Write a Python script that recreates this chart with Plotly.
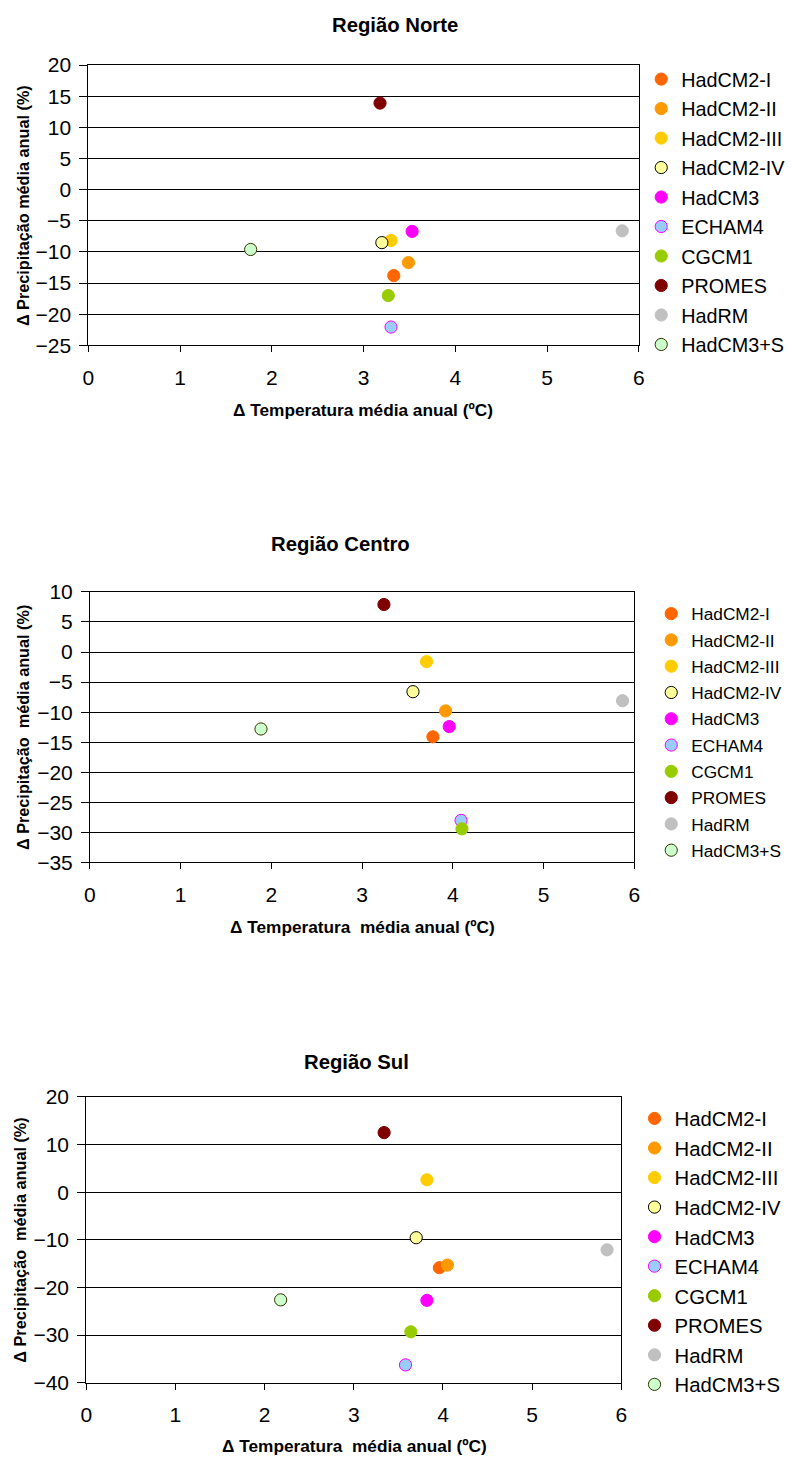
import plotly.graph_objects as go

W, H = 792, 1457

# measured render mapping (page px = A + S * figure px); invert it so
# that elements land at the reference pixel positions
SX, AX = 0.9829, 6.2
SY, AY = 0.98558, 9.63
KF = 1 / 0.985  # font compensation

models = ["HadCM2-I", "HadCM2-II", "HadCM2-III", "HadCM2-IV", "HadCM3",
          "ECHAM4", "CGCM1", "PROMES", "HadRM", "HadCM3+S"]
fill_colors = ["#FF6600", "#FF9900", "#FFCC00", "#FFFF99", "#FF00FF",
               "#99CCFF", "#99CC00", "#800000", "#C0C0C0", "#CCFFCC"]
edge_colors = ["#FF6600", "#FF9900", "#FFCC00", "#000000", "#FF00FF",
               "#FF00FF", "#99CC00", "#800000", "#C0C0C0", "#333300"]

# Região Norte
norte_dt = [3.33, 3.49, 3.30, 3.20, 3.53, 3.30, 3.27, 3.18, 5.82, 1.77]
norte_dp = [-13.8, -11.7, -8.15, -8.5, -6.7, -22.05, -17.0, 13.9, -6.6, -9.6]
# Região Centro
centro_dt = [3.78, 3.92, 3.71, 3.56, 3.96, 4.09, 4.10, 3.24, 5.87, 1.885]
centro_dp = [-14.1, -9.8, -1.6, -6.6, -12.4, -28.0, -29.4, 7.9, -8.1, -12.8]
# Região Sul
sul_dt = [3.96, 4.05, 3.82, 3.70, 3.82, 3.58, 3.64, 3.34, 5.84, 2.18]
sul_dp = [-15.85, -15.3, 2.6, -9.56, -22.7, -36.25, -29.3, 12.5, -12.1, -22.6]

titles = ["Região Norte", "Região Centro", "Região Sul"]
xtitles = ["\u0394 Temperatura média anual (ºC)",
           "\u0394 Temperatura  média anual (ºC)",
           "\u0394 Temperatura  média anual (ºC)"]
ytitles = ["\u0394 Precipitação média anual (%)",
           "\u0394 Precipitação  média anual (%)",
           "\u0394 Precipitação  média anual (%)"]
y_ranges = [(-25, 20, 5), (-35, 10, 5), (-40, 20, 10)]
x_range = (0, 6, 1)

# target geometry in reference pixels (left, right, top, bottom)
boxes = [(88.3, 637.7, 62.8, 343.5),
         (90.0, 633.3, 590.3, 861.3),
         (86.3, 620.3, 1096.0, 1382.3)]
# (first marker x, first item y, font size, group gap) in reference px
legend_cfg = [
    (661, 76.5, 19.5, 0.75),
    (671, 611.8, 17.0, 0.85),
    (654.3, 1117.3, 20.0, 0.15),
]
title_pos = [(394, 24), (340, 544), (356, 1062)]
xtitle_pos = [(362.5, 408), (361.7, 926), (354, 1446)]
ytitle_x = [23, 23, 20]

data_sets = [(norte_dt, norte_dp), (centro_dt, centro_dp), (sul_dt, sul_dp)]


def fx(x):
    return (x - AX) / SX


def fy(y):
    return (y - AY) / SY


def px(x):
    return fx(x) / W


def py(y):
    return 1 - fy(y) / H


def pyf(yfig):
    return 1 - yfig / H


fig = go.Figure()
FONT = "Liberation Sans, Arial, sans-serif"

annotations = []
for k in range(3):
    xs, ys = data_sets[k]
    ax = "" if k == 0 else str(k + 1)
    leg = "legend" if k == 0 else f"legend{k + 1}"
    for i, m in enumerate(models):
        fig.add_trace(go.Scatter(
            x=[xs[i]], y=[ys[i]], mode="markers", name=m,
            xaxis="x" + ax, yaxis="y" + ax, legend=leg,
            legendgroup=f"g{k}_{i}",
            marker=dict(size=12.2, color=fill_colors[i],
                        line=dict(color=edge_colors[i], width=1)),
            cliponaxis=False,
        ))
    l, r, t, b = boxes[k]
    ylo, yhi, ydt = y_ranges[k]
    fig.layout["xaxis" + ax] = dict(
        domain=[px(l), px(r)], range=[x_range[0], x_range[1]],
        dtick=x_range[2], tick0=0, anchor="y" + ax, showgrid=False,
        zeroline=False, showline=True, linecolor="black", linewidth=1,
        mirror=True, ticks="outside", ticklen=6, tickcolor="black",
        ticklabelstandoff=7,
        tickfont=dict(family=FONT, size=21, color="black"),
    )
    fig.layout["yaxis" + ax] = dict(
        domain=[py(b), py(t)], range=[ylo, yhi], dtick=ydt, tick0=ylo,
        anchor="x" + ax, showgrid=True, gridcolor="black", gridwidth=1,
        zeroline=False, showline=True, linecolor="black", linewidth=1,
        mirror=True, ticks="outside", ticklen=8, tickcolor="black",
        ticklabelstandoff=4,
        tickfont=dict(family=FONT, size=21, color="black"),
    )
    mx, my, lfs, gap = legend_cfg[k]
    fsize = lfs * KF
    left = fx(mx) - 21.2
    top = fy(my) - (fsize * 0.65 + 6.5)
    fig.layout[leg] = dict(
        x=left / W, y=pyf(top), xanchor="left", yanchor="top",
        font=dict(family=FONT, size=fsize, color="black"),
        tracegroupgap=gap, bgcolor="rgba(0,0,0,0)", borderwidth=0,
        itemsizing="trace",
    )
    tx, ty = title_pos[k]
    annotations.append(dict(
        text=f"<b>{titles[k]}</b>", x=px(tx), y=pyf(fy(ty) - 1.2),
        xref="paper", yref="paper", xanchor="center", yanchor="middle",
        showarrow=False, font=dict(family=FONT, size=20 * KF,
                                   color="black")))
    xx, xy = xtitle_pos[k]
    annotations.append(dict(
        text=f"<b>{xtitles[k]}</b>", x=px(xx), y=py(xy),
        xref="paper", yref="paper", xanchor="center", yanchor="middle",
        showarrow=False, font=dict(family=FONT, size=17 * KF,
                                   color="black")))
    annotations.append(dict(
        text=f"<b>{ytitles[k]}</b>", x=px(ytitle_x[k]),
        y=py((t + b) / 2), textangle=-90,
        xref="paper", yref="paper", xanchor="center", yanchor="middle",
        showarrow=False, font=dict(family=FONT, size=16 * KF,
                                   color="black")))

fig.update_layout(
    width=W, height=H, margin=dict(l=0, r=0, t=0, b=0),
    paper_bgcolor="white", plot_bgcolor="white",
    annotations=annotations, showlegend=True,
)

fig.write_html("out.html")
